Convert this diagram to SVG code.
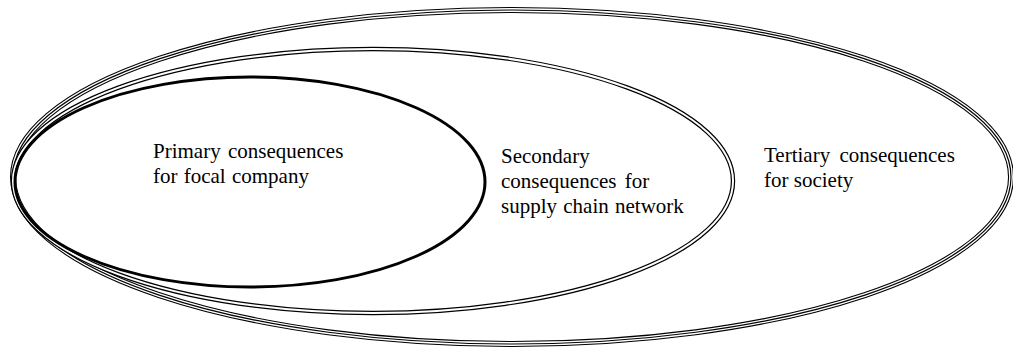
<svg xmlns="http://www.w3.org/2000/svg" xmlns:xlink="http://www.w3.org/1999/xlink" width="1013" height="351" viewBox="0 0 1013 351">
<style>
  .lbl { font-family: "Liberation Serif", "Times New Roman", serif; font-size: 21px; fill: #000; }
  .edge-b { fill: none; stroke: #000; }
  .edge-w { fill: none; stroke: #fff; }
</style>
<defs>
  <ellipse id="e-outer" cx="512" cy="177" rx="499" ry="167"/>
  <ellipse id="e-mid" cx="373" cy="181" rx="360" ry="132"/>
  <ellipse id="e-inner" cx="250" cy="182" rx="235" ry="105"/>
</defs>
<rect width="1013" height="351" fill="#fff"/>
<g id="node-tertiary">
  <use xlink:href="#e-outer" class="edge-b" stroke-width="6"/>
  <use xlink:href="#e-outer" class="edge-w" stroke-width="3.8"/>
  <use xlink:href="#e-outer" class="edge-b" stroke-width="1.2"/>
  <text class="lbl" x="764" y="162" word-spacing="4">Tertiary consequences</text>
  <text class="lbl" x="764" y="187">for society</text>
</g>
<g id="node-secondary">
  <use xlink:href="#e-mid" class="edge-b" stroke-width="4.4"/>
  <use xlink:href="#e-mid" class="edge-w" stroke-width="2"/>
  <text class="lbl" x="501" y="163">Secondary</text>
  <text class="lbl" x="501" y="188" word-spacing="3">consequences for</text>
  <text class="lbl" x="501" y="213" word-spacing="1">supply chain network</text>
</g>
<g id="node-primary">
  <use xlink:href="#e-inner" class="edge-b" stroke-width="3"/>
  <text class="lbl" x="153" y="158" word-spacing="2">Primary consequences</text>
  <text class="lbl" x="153" y="183" word-spacing="1">for focal company</text>
</g>
<g id="connectors"/>
</svg>
